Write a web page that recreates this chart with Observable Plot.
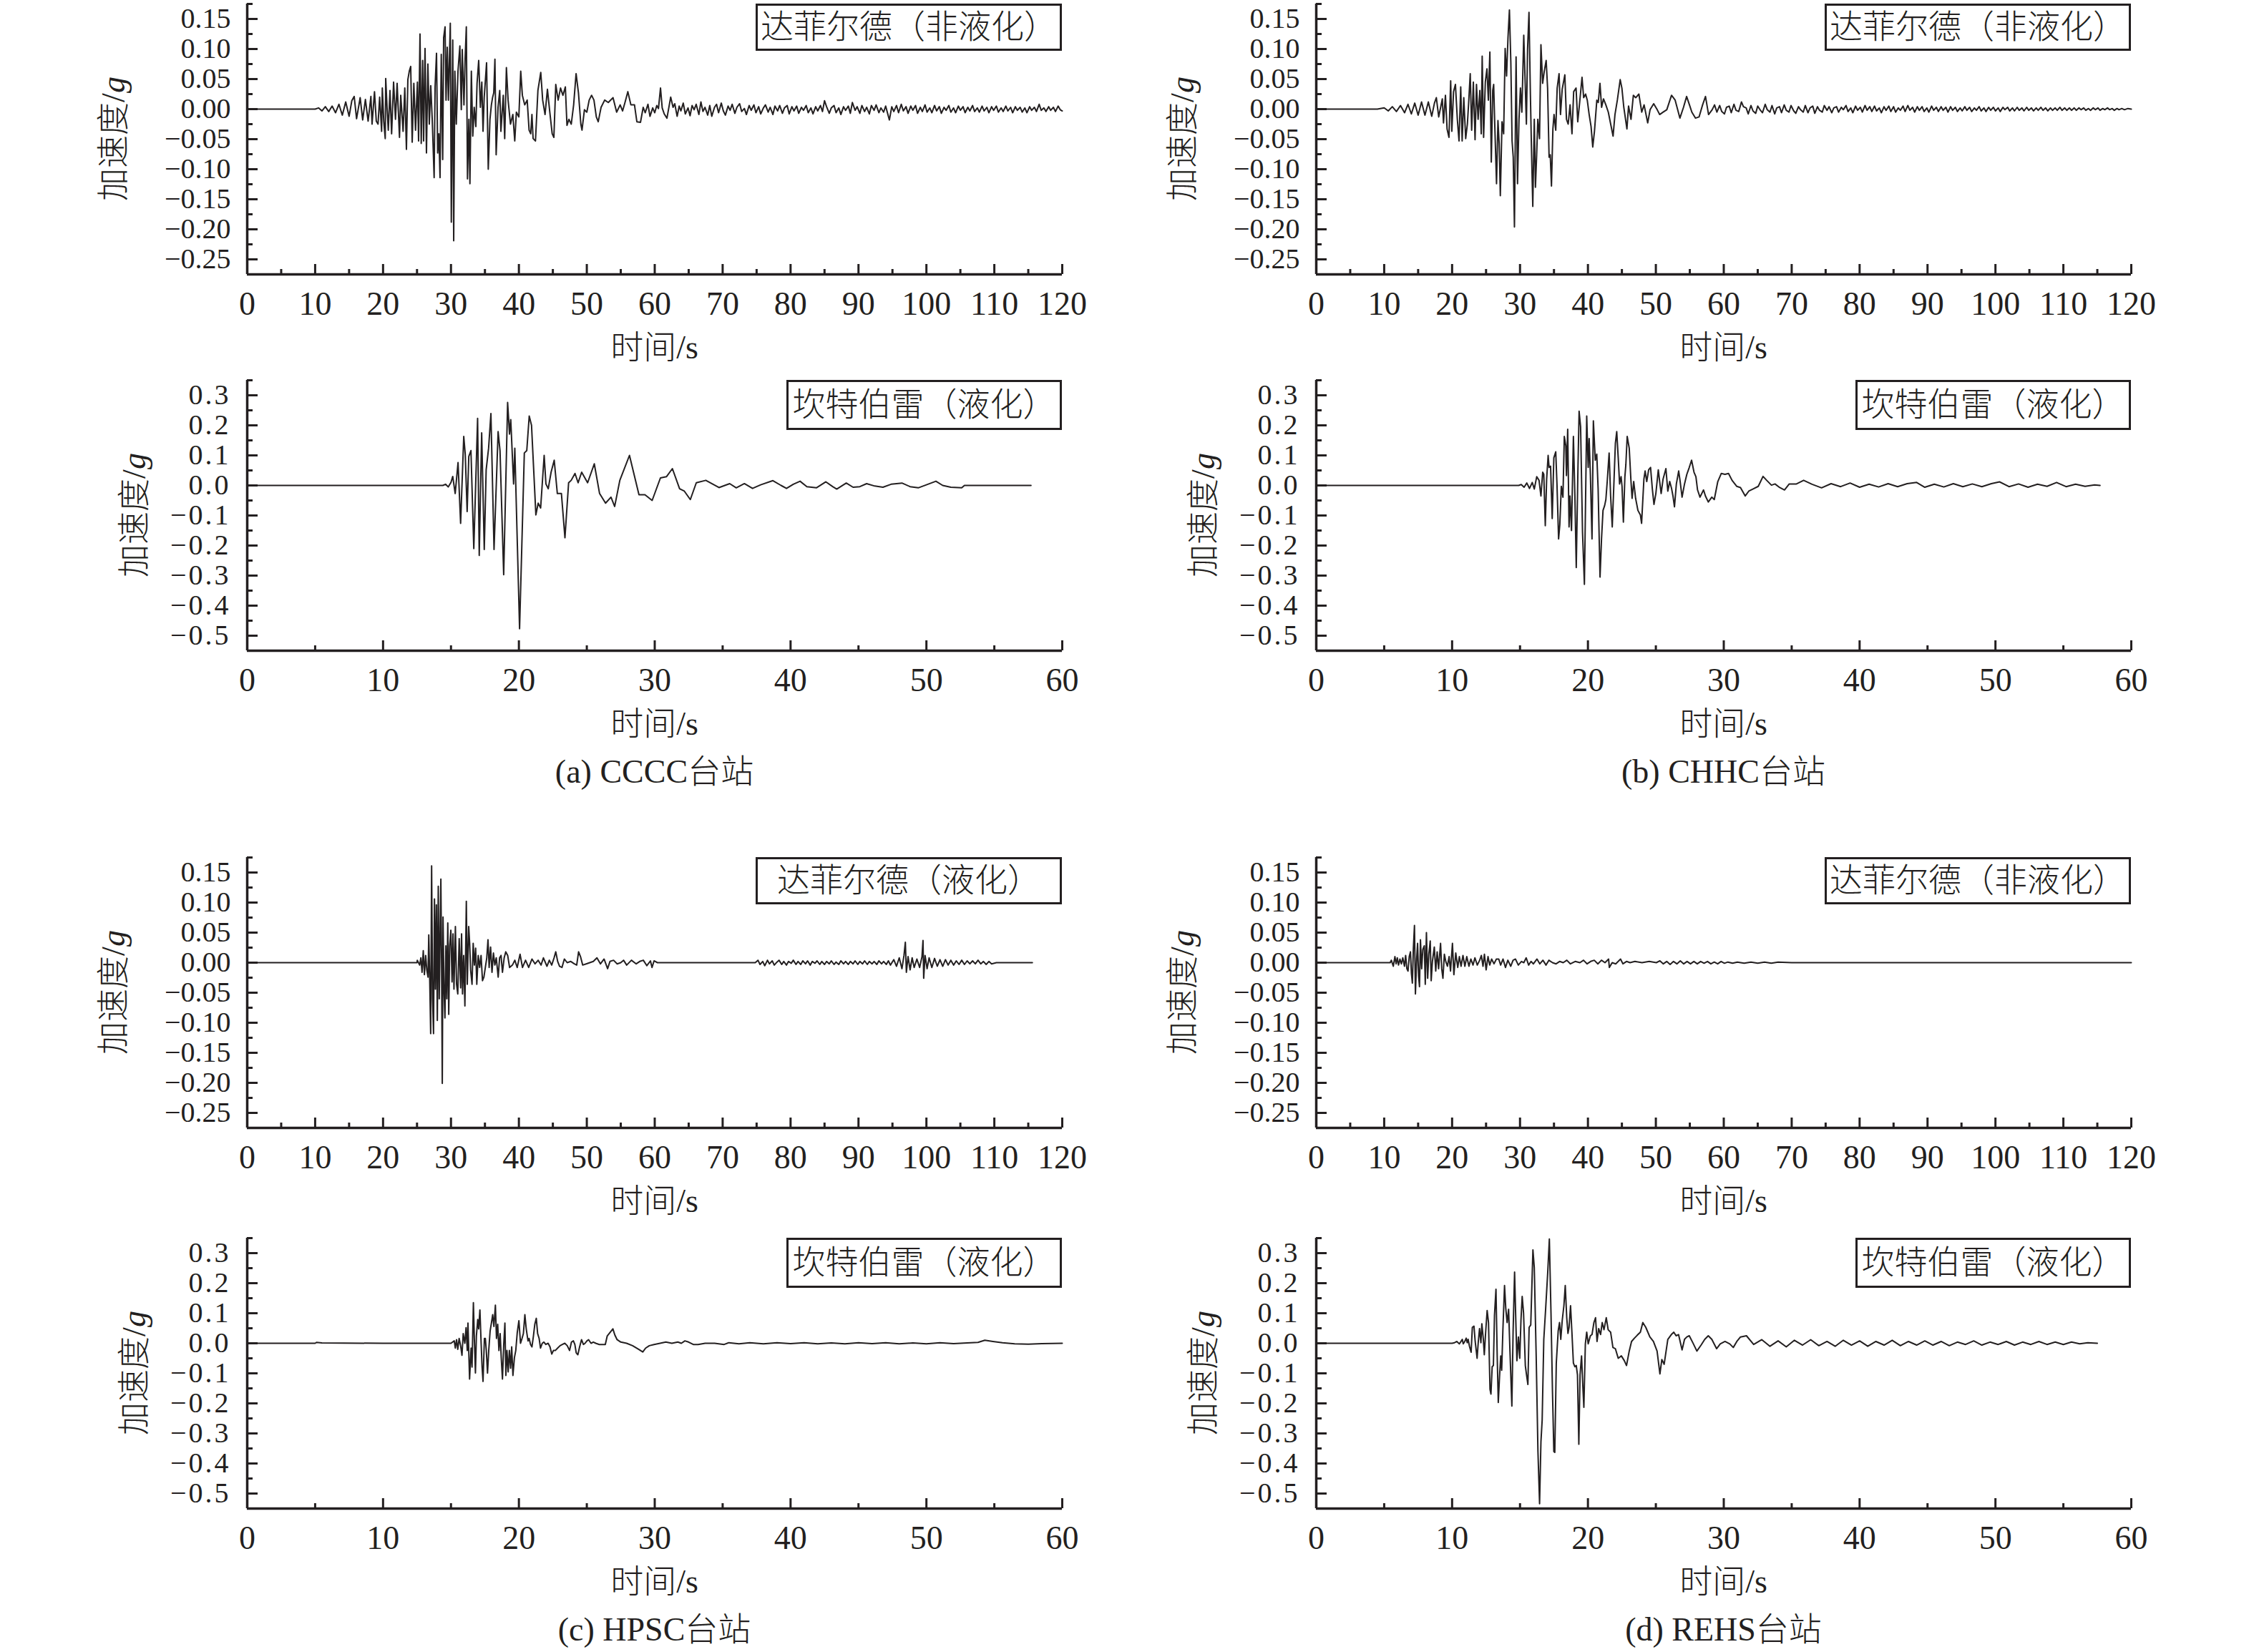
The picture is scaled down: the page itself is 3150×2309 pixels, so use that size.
<!DOCTYPE html>
<html>
<head>
<meta charset="utf-8">
<script src="https://cdn.jsdelivr.net/npm/d3@7"></script>
<script src="https://cdn.jsdelivr.net/npm/@observablehq/plot@0.6"></script>
<style>
  html, body { margin: 0; padding: 0; background: #fff; }
  #page { position: relative; width: 3150px; height: 2309px; background: #fff; overflow: hidden; }
  .abs { position: absolute; }
  .txt { font-family: "Liberation Serif", "Noto Sans CJK SC", serif; color: #231f20; white-space: nowrap; line-height: 1; }
  .cjk { font-weight: 300; }
  .box { border: 3.5px solid #231f20; box-sizing: border-box; display: flex; align-items: center; justify-content: center; background: #fff; font-size: 46px; }
</style>
</head>
<body>
<div id="page"></div>
<script>
// ---------- tick values ----------
const xMajor120 = [0,10,20,30,40,50,60,70,80,90,100,110,120];
const xMinor120 = [5,15,25,35,45,55,65,75,85,95,105,115];
const xMajor60 = [0,10,20,30,40,50,60];
const xMinor60 = [5,15,25,35,45,55];
const yMajorTop = [-0.25,-0.2,-0.15,-0.1,-0.05,0,0.05,0.1,0.15];
const yMinorTop = [-0.225,-0.175,-0.125,-0.075,-0.025,0.025,0.075,0.125,0.175];
const yMajorBot = [-0.5,-0.4,-0.3,-0.2,-0.1,0,0.1,0.2,0.3];
const yMinorBot = [-0.45,-0.35,-0.25,-0.15,-0.05,0.05,0.15,0.25,0.35];
const yDomainTop = [-0.275, 0.175];
const yDomainBot = [-0.55, 0.35];

// ---------- labels ----------
const stationCaptions = ["(a) CCCC台站", "(b) CHHC台站", "(c) HPSC台站", "(d) REHS台站"];
const eventLabelsTop = ["达菲尔德（非液化）", "达菲尔德（非液化）", "达菲尔德（液化）", "达菲尔德（非液化）"];
const eventLabelBottom = "坎特伯雷（液化）";
const xTitle = "时间/s";

// ---------- acceleration records [time s, acceleration g] ----------
const cccc_darfield = [[0,0],[10,0],[10.5,0.002],[11,-0.003],[11.5,0.004],[12,-0.004],[12.5,0.005],[13,-0.006],[13.5,0.008],[14,-0.01],[14.5,0.012],[15,-0.012],
[15.4,0.014],[15.75,0.021],[16.1,-0.016],[16.63,0.019],[17.0,-0.018],[17.4,0.016],[17.8,-0.02],[18.21,0.021],[18.38,-0.025],[18.74,0.029],[19.0,-0.02],[19.26,-0.025],[19.5,0.02],[19.79,-0.037],[19.89,0.035],[20.1,-0.02],[20.32,-0.049],[20.39,0.051],[20.6,0.0],[20.77,-0.035],[21.02,0.031],[21.26,-0.041],[21.55,0.045],[21.83,-0.017],[22.07,0.043],[22.42,-0.047],[22.6,0.023],[22.95,-0.037],[23.2,0.035],[23.44,-0.067],[23.65,0.049],[23.86,0.063],[24.07,0.071],[24.29,-0.055],[24.53,0.043],[24.78,-0.035],[25.06,0.045],[25.23,-0.053],[25.44,0.125],[25.62,-0.057],[25.83,0.081],[25.97,-0.053],[26.18,0.101],[26.39,-0.073],[26.6,0.075],[26.81,-0.025],[27.02,0.039],[27.24,-0.017],[27.52,-0.114],[27.66,0.037],[27.87,0.093],[28.04,-0.073],[28.22,-0.041],[28.39,-0.114],[28.57,0.091],[28.78,-0.084],[28.92,0.119],[29.13,0.137],[29.27,0.015],[29.45,0.103],[29.62,0.015],[29.9,0.143],[30.05,-0.188],[30.26,0.115],[30.4,-0.219],[30.57,0.063],[30.78,-0.025],[31.03,0.063],[31.31,0.105],[31.52,-0.001],[31.66,0.099],[31.91,0.007],[32.08,0.083],[32.26,0.137],[32.43,-0.116],[32.64,-0.017],[32.79,-0.124],[33.0,0.063],[33.21,-0.045],[33.42,0.003],[33.66,-0.029],[33.84,0.043],[34.08,0.081],[34.33,0.003],[34.54,0.045],[34.72,-0.037],[34.89,0.019],[35.24,0.077],[35.49,-0.1],[35.74,-0.017],[35.95,0.007],[36.12,0.019],[36.3,0.027],[36.47,0.083],[36.65,-0.076],[36.93,0.003],[37.18,0.031],[37.35,-0.037],[37.7,0.023],[37.91,-0.049],[38.16,0.069],[38.41,0.015],[38.76,-0.025],[39.11,-0.009],[39.39,-0.053],[39.63,-0.005],[39.99,-0.013],[40.27,0.063],[40.51,0.023],[40.86,0.007],[41.22,0.015],[41.5,-0.035],[41.74,-0.041],[41.92,-0.009],[42.09,-0.049],[42.44,-0.053],[42.8,0.031],[43.22,0.061],[43.5,0.015],[43.85,-0.009],[44.2,0.033],[44.55,-0.005],[44.9,-0.041],[45.15,-0.047],[45.43,0.041],[45.78,0.015],[46.13,0.035],[46.48,0.023],[46.84,0.037],[47.08,-0.027],[47.36,-0.017],[47.71,-0.025],[48.06,0.007],[48.42,0.059],[48.77,0.027],[49.12,-0.025],[49.29,-0.035],[49.65,-0.001],[50.0,-0.005],[50.35,0.015],[50.7,0.023],[51.05,0.015],[51.4,-0.013],[51.68,-0.021],[52.1,0.003],[52.63,0.015],[53.16,0.011],[53.86,0.019],[54.39,-0.005],[54.91,0.007],[55.27,-0.003],[55.62,0.011],[56.04,0.029],[56.49,0.007],[57.02,0.007],[57.37,-0.021],
[57.9,-0.022],[58.3,0.003],[58.6,-0.006],[59.0,0.008],[59.3,-0.012],[59.7,0.002],[60.0,-0.006],[60.3,0.006],[60.55,0.001],[60.85,0.035],[61.1,0.002],[61.4,-0.008],[61.8,-0.015],[62.1,0.004],[62.35,0.02],[62.7,0.003],[62.95,0.009],[63.3,-0.012],[63.6,0.005],[63.85,-0.003],[64.2,0.01],[64.5,-0.008],[64.9,0.002],[65.2,-0.011],[65.5,0.006],[65.8,-0.001],[66.1,0.008],[66.5,-0.009],[66.8,0.012],[67.1,-0.004],[67.4,0.003],[67.8,-0.01],[68.1,0.006],[68.4,-0.012],[68.8,0.003],[69.1,0.008],[69.4,-0.006],[69.8,0.01],[70.1,-0.003],[70.4,-0.01],[70.8,0.005],[71.1,-0.002],[71.4,0.008],[71.8,-0.007],[72.1,0.003],[72.5,0.009],[72.8,-0.004],[73.2,0.001],[73.5,-0.009],[73.9,0.006],[74.2,-0.002],[74.6,0.007],[74.9,-0.006],[75.3,0.004],[75.6,-0.008],[76.0,0.002],[76.3,0.007],[76.7,-0.005],[77.0,0.003],[77.4,-0.009],[77.7,0.005],[78.1,-0.003],[78.4,0.006],[78.8,-0.007],[79.1,0.002],[79.5,0.006],[79.8,-0.008],[80.2,0.004],[80.5,-0.003],[80.9,0.005],[81.2,-0.007],[81.6,0.003],[81.9,-0.002],[82.3,0.006],[82.6,-0.006],[83.0,0.002],[83.3,-0.008],[83.7,0.004],[84.0,-0.003],[84.4,0.006],[84.7,-0.004],[85.0,0.014],[85.3,0.004],[85.7,-0.007],[86.0,0.002],[86.4,0.006],[86.7,-0.006],[87.1,0.002],[87.4,-0.009],[87.8,0.004],[88.1,-0.002],[88.5,0.005],[88.8,-0.007],[89.1,0.011],[89.5,-0.002],[89.8,0.004],[90.2,-0.007],[90.5,0.006],[90.9,-0.004],[91.2,0.003],[91.6,-0.008],[91.9,0.006],[92.3,-0.002],[92.6,0.007],[93.0,-0.006],[93.3,0.002],[93.7,-0.005],[94.0,0.005],[94.4,-0.012],[94.55,-0.018],[94.9,0.004],[95.2,-0.004],[95.6,0.006],[95.9,-0.006],[96.3,0.008],[96.6,-0.003],[97.0,0.004],[97.3,-0.007],[97.7,0.005],[98.0,-0.002],[98.4,0.006],[98.7,-0.007],[99.1,0.003],[99.4,-0.004],[99.8,0.007],[100.1,-0.005],[100.5,0.002],[100.8,-0.006],[101.2,0.006],[101.5,-0.003],[101.9,0.004],[102.2,-0.007],[102.6,0.003],[102.9,-0.002],[103.3,0.006],[103.6,-0.005],[104.0,0.002],[104.3,-0.006],[104.7,0.005],[105.0,-0.002],[105.4,0.004],[105.7,-0.006],[106.1,0.003],[106.4,-0.003],[106.8,0.006],[107.1,-0.004],[107.5,0.002],[107.8,-0.005],[108.2,0.005],[108.5,-0.003],[108.9,0.003],[109.2,-0.006],[109.6,0.004],[109.9,-0.002],[110.3,0.005],[110.6,-0.005],[111.0,0.002],[111.3,-0.004],[111.7,0.005],[112.0,-0.003],[112.4,0.003],[112.7,-0.006],[113.1,0.004],[113.4,-0.002],[113.8,0.003],[114.1,-0.005],[114.5,0.002],[114.8,-0.006],[115.2,0.004],[115.5,-0.002],[115.9,0.003],[116.2,-0.004],[116.6,0.008],[116.9,-0.002],[117.3,0.002],[117.6,-0.004],[118.0,0.004],[118.3,-0.002],[118.7,0.003],[119.0,-0.004],[119.4,0.005],[119.7,-0.001],[120,-0.003]];

const cccc_canterbury = [[0,0],[14.4,0],[14.6,0.004],[14.8,-0.005],[15.0,0.01],[15.13,0.03],[15.31,-0.027],[15.52,0.076],[15.71,-0.126],[15.94,0.163],[16.05,0.104],[16.19,-0.087],[16.31,0.096],[16.47,0.116],[16.68,-0.21],[16.96,0.223],[17.08,-0.233],[17.26,0.175],[17.45,-0.213],[17.59,0.052],[17.77,0.124],[17.94,0.239],[18.17,-0.213],[18.47,0.179],[18.61,0.116],[18.88,-0.297],[19.17,0.276],[19.31,0.171],[19.4,0.219],[19.61,0.005],[19.7,0.124],[20.05,-0.477],[20.4,0.108],[20.58,0.116],[20.76,0.231],[20.93,0.2],[21.25,-0.098],[21.42,-0.059],[21.6,-0.075],[21.86,0.1],[21.99,0.005],[22.16,-0.011],[22.37,0.044],[22.6,0.084],[22.83,-0.027],[23.13,-0.027],[23.39,-0.174],[23.66,0.009],[23.85,0.017],[24.13,0.04],[24.36,0.009],[24.62,0.044],[25.06,0.009],[25.55,0.072],[25.94,-0.027],[26.38,-0.059],[26.78,-0.039],[27.05,-0.07],[27.43,0.017],[28.14,0.1],[28.84,-0.031],[29.28,-0.031],[29.81,-0.05],[30.42,0.025],[30.86,0.029],[31.3,0.056],[31.83,-0.011],[32.18,-0.019],[32.62,-0.047],[33.06,0.009],[33.76,0.017],[34.73,-0.007],[35.52,0.006],
[36.0,-0.008],[36.6,0.006],[37.2,-0.01],[37.8,0.002],[38.7,0.016],[39.3,0.0],[39.7,-0.01],[40.2,0.004],[40.7,0.014],[41.2,-0.004],[41.9,-0.008],[42.6,0.012],[43.1,-0.004],[43.4,-0.012],[44.1,0.008],[44.6,-0.006],[45.1,-0.004],[45.6,0.006],[46.2,-0.002],[46.8,-0.006],[47.4,0.004],[48.2,0.008],[48.8,-0.004],[49.4,-0.008],[50.0,0.002],[50.7,0.014],[51.2,0.0],[51.8,-0.006],[52.6,-0.008],[52.8,0.0],[57.7,0.0]];

const chhc_darfield = [[0,0],[9,0],[10,0.002],[10.6,-0.003],[11.2,0.004],[11.8,-0.004],[12.4,0.006],[13.0,-0.006],[13.5,0.008],[14.0,-0.008],[14.5,0.01],[15.0,-0.01],[15.5,0.012],[16.0,-0.01],[16.5,0.012],[17.0,-0.012],[17.4,0.01],
[17.68,0.019],[18.03,-0.013],[18.56,0.017],[18.73,-0.023],[19.02,0.023],[19.26,-0.033],[19.54,-0.047],[19.79,0.047],[19.96,-0.037],[20.21,0.029],[20.49,0.041],[20.77,-0.017],[21.02,-0.053],[21.27,0.037],[21.48,-0.053],[21.72,0.019],[22.0,-0.049],[22.25,-0.025],[22.46,0.015],[22.67,0.059],[22.88,-0.035],[23.13,0.045],[23.38,-0.051],[23.59,0.041],[23.83,-0.017],[24.08,0.031],[24.29,-0.041],[24.43,0.088],[24.64,-0.047],[24.89,0.045],[25.13,0.067],[25.34,0.015],[25.56,0.095],[25.77,-0.088],[25.98,0.031],[26.12,0.041],[26.29,-0.029],[26.54,-0.124],[26.75,-0.019],[26.93,-0.057],[27.1,-0.144],[27.35,-0.021],[27.59,-0.041],[27.81,0.101],[28.02,0.055],[28.23,0.119],[28.44,0.165],[28.65,0.077],[28.83,-0.053],[29.0,-0.08],[29.18,-0.196],[29.42,0.087],[29.63,-0.124],[29.85,-0.017],[30.06,0.035],[30.27,-0.005],[30.55,0.123],[30.76,0.043],[30.94,-0.025],[31.11,0.099],[31.32,0.161],[31.53,0.023],[31.67,-0.057],[31.88,-0.162],[32.1,-0.017],[32.27,-0.13],[32.45,-0.076],[32.62,-0.017],[32.87,-0.049],[33.08,0.107],[33.33,0.043],[33.57,0.063],[33.85,0.081],[34.06,0.035],[34.28,-0.08],[34.45,-0.076],[34.63,-0.128],[34.84,-0.033],[35.01,-0.009],[35.26,-0.035],[35.47,0.035],[35.75,0.059],[35.96,-0.009],[36.21,0.033],[36.6,0.057],[36.84,-0.017],[37.09,-0.025],[37.37,0.007],[37.65,-0.041],[37.9,0.029],[38.25,0.035],[38.5,-0.021],[38.78,0.011],[39.13,0.053],[39.37,0.019],[39.66,0.025],[39.9,0.015],[40.18,-0.009],[40.46,-0.029],[40.71,-0.063],[40.96,-0.037],[41.31,0.015],[41.52,0.011],[41.77,0.043],[42.01,0.003],[42.29,0.017],[42.64,0.007],[43.0,-0.005],[43.35,-0.025],[43.7,-0.045],[43.98,-0.009],[44.33,0.015],[44.75,0.049],[45.0,0.035],[45.28,0.003],[45.74,-0.033],[45.98,0.005],[46.34,-0.017],[46.69,0.023],[47.04,0.019],[47.5,0.025],[47.92,-0.005],[48.27,0.007],[48.8,-0.023],[49.15,-0.001],[49.68,0.009],[50.2,-0.001],[50.56,-0.009],[51.08,-0.005],[51.61,-0.001],[52.31,0.023],[52.84,0.015],[53.54,-0.015],[54.07,0.003],[54.53,0.021],[54.95,0.007],[55.3,-0.005],[55.83,-0.015],[56.36,-0.013],[56.88,0.007],[57.31,0.021],[57.76,-0.009],[58.29,-0.001],[58.64,0.007],[58.99,-0.005],
[59.4,0.006],[59.7,-0.004],[60.1,-0.008],[60.4,0.003],[60.8,0.005],[61.1,-0.006],[61.5,0.008],[61.8,-0.002],[62.2,-0.004],[62.6,0.012],[62.9,0.004],[63.3,0.002],[63.6,-0.008],[64.0,0.006],[64.3,-0.003],[64.7,-0.007],[65.0,0.005],[65.4,-0.002],[65.7,-0.006],[66.1,0.008],[66.4,-0.001],[66.8,-0.005],[67.1,0.006],[67.5,-0.008],[67.8,0.002],[68.2,0.004],[68.5,-0.006],[68.9,0.007],[69.2,-0.002],[69.6,-0.005],[69.9,0.006],[70.3,-0.003],[70.6,-0.007],[71.0,0.004],[71.3,-0.001],[71.7,-0.005],[72.0,0.006],[72.4,-0.006],[72.7,0.002],[73.1,0.005],[73.4,-0.007],[73.8,0.004],[74.1,-0.002],[74.5,-0.005],[74.8,0.006],[75.2,-0.002],[75.5,0.004],[75.9,-0.006],[76.2,0.002],[76.6,0.004],[76.9,-0.005],[77.3,0.003],[77.6,-0.001],[78.0,0.006],[78.3,-0.004],[78.7,0.002],[79.0,-0.006],[79.4,0.005],[79.7,-0.002],[80.1,0.003],[80.4,-0.005],[80.8,0.006],[81.1,-0.002],[81.5,0.004],[81.8,-0.004],[82.2,0.005],[82.5,-0.003],[82.9,0.002],[83.2,-0.006],[83.6,0.004],[83.9,-0.002],[84.3,0.005],[84.6,-0.004],[85.0,0.004],[85.3,-0.005],[85.7,0.002],[86.0,-0.002],[86.4,0.005],[86.7,-0.004],[87.1,0.006],[87.4,-0.002],[87.8,0.003],[88.1,-0.005],[88.5,0.004],[88.8,-0.002],[89.2,0.004],[89.5,-0.004],[89.9,0.002],[90.2,-0.005],[90.6,0.005],[90.9,-0.002],[91.3,0.003],[91.6,-0.004],[92.0,0.004],[92.3,-0.002],[92.7,0.003],[93.0,-0.005],[93.4,0.004],[93.7,-0.002],[94.1,0.003],[94.4,-0.004],[94.8,0.002],[95.1,-0.003],[95.5,0.004],[95.8,-0.002],[96.2,0.003],[96.5,-0.004],[96.9,0.002],[97.2,-0.002],[97.6,0.004],[97.9,-0.003],[98.3,0.002],[98.6,-0.004],[99.0,0.003],[99.3,-0.002],[99.7,0.003],[100.0,-0.003],[100.4,0.002],[100.7,-0.004],[101.1,0.003],[101.4,-0.001],[101.8,0.003],[102.1,-0.003],[102.5,0.002],[102.8,-0.003],[103.2,0.003],[103.5,-0.002],[103.9,0.002],[104.2,-0.003],[104.6,0.003],[104.9,-0.002],[105.3,0.002],[105.6,-0.003],[106.0,0.002],[106.3,-0.002],[106.7,0.003],[107.0,-0.002],[107.4,0.002],[107.7,-0.003],[108.1,0.002],[108.4,-0.002],[108.8,0.002],[109.1,-0.002],[109.5,0.003],[109.8,-0.002],[110.2,0.002],[110.5,-0.002],[110.9,0.002],[111.2,-0.002],[111.6,0.002],[111.9,-0.002],[112.3,0.002],[112.6,-0.001],[113.0,0.002],[113.3,-0.002],[113.7,0.001],[114.0,-0.002],[114.4,0.002],[114.7,-0.001],[115.1,0.002],[115.4,-0.002],[115.8,0.001],[116.1,-0.001],[116.5,0.002],[116.8,-0.001],[117.2,0.001],[117.5,-0.002],[117.9,0.001],[118.2,-0.001],[118.6,0.001],[119.0,-0.001],[119.5,0.001],[120,0.0]];

const chhc_canterbury = [[0,0],[14.9,0],[15.09,0.003],[15.3,-0.006],[15.5,0.008],[15.7,-0.01],[15.9,0.01],[16.05,-0.012],[16.23,0.029],[16.4,0.017],[16.54,-0.035],[16.67,0.044],[16.75,0.037],[16.86,-0.134],[16.96,0.021],[17.07,0.1],[17.14,0.06],[17.25,0.064],[17.37,-0.11],[17.49,0.092],[17.63,0.112],[17.72,0.005],[17.84,-0.178],[17.93,-0.13],[18.04,-0.003],[18.16,-0.039],[18.26,0.163],[18.37,0.132],[18.42,0.033],[18.51,0.187],[18.61,-0.138],[18.68,-0.035],[18.79,-0.15],[18.93,0.163],[19.04,-0.035],[19.14,-0.273],[19.26,0.044],[19.35,0.247],[19.46,0.195],[19.6,-0.154],[19.74,-0.329],[19.84,-0.003],[19.91,0.231],[20.02,0.06],[20.09,0.156],[20.18,0.037],[20.3,-0.178],[20.4,0.215],[20.54,0.084],[20.65,0.104],[20.75,-0.011],[20.89,-0.305],[21.0,-0.178],[21.11,-0.083],[21.23,-0.067],[21.32,-0.047],[21.42,0.013],[21.56,0.108],[21.67,-0.035],[21.79,-0.138],[21.91,0.005],[22.02,0.14],[22.12,0.179],[22.23,0.092],[22.33,0.005],[22.44,0.029],[22.51,-0.003],[22.61,-0.122],[22.72,0.029],[22.79,0.068],[22.89,0.163],[23.04,0.124],[23.16,0.021],[23.25,-0.043],[23.37,0.013],[23.51,-0.043],[23.68,-0.083],[23.86,-0.098],[23.95,-0.126],[24.12,0.021],[24.21,0.048],[24.33,0.013],[24.47,0.052],[24.61,0.06],[24.74,-0.011],[24.86,-0.063],[25.0,-0.027],[25.18,0.052],[25.28,0.013],[25.39,-0.027],[25.53,0.021],[25.74,0.056],[25.88,-0.019],[26.02,0.013],[26.16,-0.011],[26.26,-0.035],[26.37,-0.071],[26.51,0.005],[26.68,0.048],[26.79,0.013],[26.93,-0.039],[27.11,0.005],[27.28,0.037],[27.46,0.06],[27.63,0.084],[27.81,0.044],[27.95,0.029],[28.07,-0.015],[28.25,-0.039],[28.51,-0.015],[28.65,-0.035],[28.86,-0.055],[29.12,-0.039],[29.3,-0.047],[29.56,0.013],[29.82,0.04],[30.09,0.037],[30.35,0.04],[30.61,0.017],[30.96,-0.003],[31.23,-0.007],[31.58,-0.035],[31.84,-0.019],[32.19,-0.011],[32.54,-0.003],[32.89,0.03],[33.16,0.017],[33.51,0.001],[33.77,0.005],[34.12,-0.007],[34.47,-0.015],[34.82,0.005],[35.35,0.005],[35.88,0.017],
[36.5,0.004],[37.2,-0.008],[37.9,0.006],[38.6,-0.004],[39.3,0.008],[40.0,-0.006],[40.7,0.004],[41.4,-0.005],[42.1,0.006],[42.8,-0.004],[43.5,0.006],[44.2,0.01],[44.8,-0.006],[45.5,0.004],[46.2,-0.005],[46.9,0.006],[47.6,-0.004],[48.3,0.005],[49.0,-0.004],[49.7,0.006],[50.3,0.012],[51.0,-0.004],[51.7,0.005],[52.4,-0.006],[53.1,0.004],[53.8,-0.003],[54.5,0.01],[55.2,-0.004],[55.9,0.004],[56.6,-0.003],[57.3,0.002],[57.7,0.0]];

const hpsc_darfield = [[0,0],[25.0,0],[25.04,0.004],[25.39,-0.004],[25.57,0.008],[25.74,-0.016],[25.92,0.02],[26.09,-0.02],[26.27,0.012],[26.44,-0.012],[26.62,-0.024],[26.73,0.046],[26.87,-0.028],[27.01,-0.118],[27.15,0.161],[27.29,-0.06],[27.43,-0.118],[27.57,0.106],[27.71,-0.044],[27.85,0.096],[27.99,-0.096],[28.13,0.127],[28.27,-0.06],[28.41,0.056],[28.51,0.139],[28.62,-0.008],[28.72,-0.201],[28.83,0.076],[28.97,-0.044],[29.11,-0.092],[29.25,0.028],[29.39,-0.06],[29.53,0.066],[29.67,-0.086],[29.81,0.028],[29.98,0.054],[30.16,-0.032],[30.3,0.048],[30.44,-0.044],[30.65,0.06],[30.82,-0.036],[31.0,-0.052],[31.21,0.04],[31.42,-0.042],[31.56,0.048],[31.7,-0.052],[31.87,0.012],[32.05,-0.072],[32.26,0.102],[32.4,-0.036],[32.61,0.06],[32.75,0.032],[32.89,-0.012],[33.1,-0.036],[33.27,0.032],[33.45,-0.004],[33.63,0.024],[33.8,-0.036],[34.01,0.012],[34.22,-0.008],[34.43,0.012],[34.64,-0.03],[34.85,-0.024],[35.06,-0.008],[35.27,0.008],[35.45,0.038],[35.62,-0.008],[35.83,0.026],[36.04,-0.016],[36.25,0.016],[36.46,-0.004],[36.67,0.008],[36.95,-0.024],[37.16,0.008],[37.37,0.012],[37.58,-0.016],[37.83,0.008],[38.07,0.018],[38.35,0.012],[38.63,-0.008],[39.05,-0.004],[39.4,0.004],[39.75,-0.008],[40.17,0.014],[40.53,-0.008],[40.98,0.004],[41.44,-0.008],[41.93,0.006],[42.38,-0.002],[42.84,0.004],[43.26,-0.004],[43.61,0.008],[44.13,-0.006],[44.48,0.004],[44.83,-0.004],[45.18,0.008],[45.43,0.018],[45.71,0.002],[45.99,-0.006],[46.34,-0.008],[46.69,0.006],[47.11,0.0],[47.64,0.002],[48.16,-0.002],[48.51,-0.004],[48.79,0.018],[49.07,0.01],[49.39,-0.004],[49.91,-0.002],[50.44,0.0],[50.96,0.002],[51.49,0.008],[52.01,-0.002],[52.54,0.006],[53.06,-0.01],[53.41,0.002],[53.94,0.004],[54.47,-0.002],[54.99,0.0],[55.41,0.004],[55.87,-0.004],[56.57,0.004],[57.27,-0.002],[57.79,0.002],[58.32,0.004],[58.84,-0.005],[59.37,0.003],[59.6,-0.008],[59.9,0.003],[60.4,0.0],[74.8,0],
[75.2,0.004],[75.5,-0.003],[75.9,0.002],[76.2,-0.005],[76.6,0.004],[76.9,-0.002],[77.3,0.003],[77.6,-0.004],[78.0,0.001],[78.3,0.004],[78.7,-0.003],[79.0,0.002],[79.4,-0.004],[79.7,0.002],[80.1,-0.001],[80.4,0.004],[80.8,-0.003],[81.1,0.002],[81.5,-0.003],[81.8,0.003],[82.2,-0.002],[82.5,0.003],[82.9,-0.004],[83.2,0.002],[83.6,-0.001],[83.9,0.003],[84.3,-0.003],[84.6,0.002],[85.0,-0.003],[85.3,0.002],[85.7,-0.002],[86.0,0.003],[86.4,-0.003],[86.7,0.001],[87.1,-0.003],[87.4,0.003],[87.8,-0.002],[88.1,0.002],[88.5,-0.003],[88.8,0.002],[89.2,-0.002],[89.5,0.003],[89.9,-0.003],[90.2,0.002],[90.6,-0.002],[90.9,0.003],[91.3,-0.003],[91.6,0.002],[92.0,-0.002],[92.3,0.002],[92.7,-0.003],[93.0,0.003],[93.4,-0.002],[93.7,0.002],[94.1,-0.003],[94.4,0.003],[94.7,-0.004],[95.2,0.005],[95.6,-0.006],[96.0,0.008],[96.4,-0.01],[96.7,0.012],[96.9,0.034],[97.05,-0.016],[97.3,0.01],[97.6,-0.012],[97.9,0.008],[98.2,-0.008],[98.6,0.006],[99.0,-0.008],[99.35,0.01],[99.5,0.037],[99.6,-0.026],[99.8,0.012],[100.1,-0.01],[100.4,0.008],[100.8,-0.008],[101.2,0.007],[101.6,-0.006],[102.0,0.005],[102.4,-0.006],[102.8,0.005],[103.2,-0.004],[103.6,0.004],[104.0,-0.004],[104.4,0.003],[104.8,-0.003],[105.2,0.004],[105.6,-0.003],[106.0,0.003],[106.4,-0.002],[106.8,0.003],[107.2,-0.002],[107.6,0.004],[108.0,-0.002],[108.4,0.002],[108.8,-0.003],[109.2,0.002],[109.6,-0.002],[110.3,0],[115.6,0]];

const hpsc_canterbury = [[0,0],[5.0,0],[5.1,0.003],[5.5,0.001],[10,0],[15.0,0],[15.24,0.008],[15.32,-0.016],[15.41,0.012],[15.5,-0.02],[15.6,0.016],[15.71,-0.008],[15.81,-0.04],[15.9,0.032],[16.02,0],[16.11,0.052],[16.2,-0.024],[16.25,0.067],[16.37,-0.119],[16.48,-0.016],[16.55,-0.079],[16.65,0.135],[16.72,0.016],[16.8,-0.099],[16.87,0.024],[16.97,0.079],[17.04,0.048],[17.13,0.111],[17.22,0],[17.29,-0.079],[17.36,-0.127],[17.46,0.016],[17.53,0.016],[17.6,-0.024],[17.69,-0.099],[17.78,-0.024],[17.88,0.04],[17.99,0.071],[18.07,0.095],[18.16,0.056],[18.27,0.127],[18.35,0.016],[18.44,0.063],[18.53,-0.024],[18.62,0.032],[18.7,-0.048],[18.79,-0.119],[18.88,-0.008],[18.97,0.067],[19.04,-0.107],[19.12,-0.024],[19.21,-0.095],[19.3,-0.024],[19.39,-0.083],[19.47,-0.012],[19.56,-0.107],[19.67,-0.048],[19.77,-0.024],[19.88,0.036],[20.0,0.075],[20.12,0],[20.23,0.016],[20.33,0.032],[20.44,0.095],[20.54,0.048],[20.67,0.008],[20.75,0.016],[20.86,-0.004],[20.96,-0.012],[21.07,0.024],[21.17,0.063],[21.28,0.083],[21.38,0.032],[21.49,0.016],[21.59,-0.016],[21.72,0],[21.84,0.004],[21.98,-0.004],[22.15,0],[22.29,-0.012],[22.42,-0.036],[22.54,-0.024],[22.68,-0.024],[22.85,-0.016],[23.03,-0.008],[23.2,-0.004],[23.38,0],[23.56,-0.008],[23.73,-0.024],[23.87,0.004],[24.01,0.008],[24.12,-0.004],[24.22,-0.032],[24.34,-0.038],[24.47,-0.012],[24.61,0.012],[24.75,-0.004],[24.87,0],[25.01,0.008],[25.13,0.012],[25.31,0],[25.48,0.004],[25.66,0],[25.92,-0.004],[26.18,-0.004],[26.36,-0.004],[26.5,0.024],[26.71,0.036],[26.92,0.048],[27.06,0.028],[27.23,0.012],[27.5,0.004],[27.93,0],[28.37,-0.008],[28.81,-0.02],[29.12,-0.029],[29.33,-0.016],[29.6,-0.008],[29.95,-0.004],[30.39,0],[30.82,0.004],[31.26,0],[31.7,0.004],[31.96,0],[32.22,0.008],[32.49,0.004],[32.84,-0.004],[33.19,-0.004],[33.71,0],[34.41,0],[35.11,-0.004],[35.46,0.002],
[36.2,-0.002],[37.0,0.002],[38.0,-0.002],[39.0,0.002],[40.0,-0.001],[41.0,0.002],[42.0,-0.002],[43.0,0.001],[44.0,-0.002],[45.0,0.002],[46.0,-0.001],[47.0,0.002],[48.0,-0.002],[49.0,0.001],[50.0,-0.002],[51.0,0.002],[52.0,-0.001],[53.0,0.001],[53.8,0.003],[54.3,0.01],[54.9,0.006],[55.6,0.002],[56.5,-0.002],[57.5,-0.003],[58.5,-0.001],[60,0]];

const rehs_darfield = [[0,0],[10.88,0],[11.05,0.004],[11.34,-0.006],[11.58,0.01],[11.76,-0.002],[11.93,0.008],[12.11,-0.004],[12.32,0.006],[12.53,-0.002],[12.74,0.008],[12.99,-0.006],[13.16,0.012],[13.34,-0.01],[13.51,-0.014],[13.69,0.01],[13.87,0.018],[14.01,-0.018],[14.15,-0.034],[14.29,0.022],[14.46,0.062],[14.6,-0.052],[14.78,0.006],[14.92,0.032],[15.06,-0.022],[15.2,-0.04],[15.34,0.038],[15.52,-0.01],[15.69,0.022],[15.91,0.028],[16.05,-0.036],[16.22,0.05],[16.4,-0.026],[16.57,0.014],[16.78,0.036],[16.92,-0.03],[17.1,0.002],[17.38,0.026],[17.59,-0.014],[17.8,0.018],[18.01,-0.01],[18.3,0.032],[18.47,-0.01],[18.65,-0.026],[18.86,0.014],[19.07,0.002],[19.31,-0.006],[19.56,0.01],[19.77,-0.014],[20.05,0.032],[20.26,-0.02],[20.54,0.016],[20.83,-0.008],[21.07,0.01],[21.32,-0.006],[21.6,0.012],[21.88,-0.006],[22.16,0.01],[22.48,-0.006],[22.76,0.006],[23.08,-0.004],[23.36,0.008],[23.71,-0.004],[24.06,0.004],[24.31,0.012],[24.55,-0.006],[24.76,0.014],[25.01,-0.012],[25.29,0.01],[25.54,-0.004],[25.82,0.006],[26.17,-0.002],[26.52,0.006],[26.87,0.006],[27.15,-0.004],[27.5,0.006],[27.86,-0.008],[28.21,0.004],[28.63,-0.006],[28.98,0.004],[29.33,0.006],[29.75,-0.004],[30.21,0.002],[30.56,0],[30.91,0.008],[31.27,-0.004],[31.62,0.002],[31.97,-0.002],[32.5,0.006],[32.92,-0.002],[33.37,0.004],[33.83,-0.004],[34.25,0.004],[34.78,0],[35.31,-0.002],[35.83,0.002],[36.36,0],[36.89,0.004],[37.42,-0.002],[38.12,0.002],[38.82,0],[39.35,0.004],[39.88,-0.002],[40.4,0.002],[40.93,0.004],[41.46,-0.002],[41.99,0.004],[42.51,0],[43.04,0.006],[43.15,-0.008],[43.57,0],[44.09,-0.002],[44.8,0.006],[45.15,-0.002],[45.68,0.002],[46.2,0],[46.91,0.002],[47.96,0],[49.02,0.002],[50.07,0],
[50.6,0.003],[51.1,-0.002],[51.6,0.002],[52.1,-0.003],[52.6,0.002],[53.1,-0.002],[53.6,0.003],[54.1,-0.002],[54.6,0.002],[55.1,-0.002],[55.6,0.002],[56.1,-0.002],[56.6,0.002],[57.1,-0.001],[57.6,0.002],[58.1,-0.002],[58.6,0.001],[59.1,-0.002],[59.6,0.002],[60.1,-0.001],[60.6,0.001],[61.3,-0.001],[62,0.001],[63,-0.001],[64,0.001],[65,-0.001],[66,0.001],[67,-0.001],[68,0.001],[70,0],[120,0]];

const rehs_canterbury = [[0,0],[10.0,0],[10.18,0.002],[10.35,0.006],[10.53,-0.002],[10.65,0.006],[10.75,0.013],[10.82,-0.002],[10.93,0.006],[11.04,0.017],[11.11,0.002],[11.18,0.013],[11.28,-0.01],[11.4,-0.03],[11.49,0.053],[11.61,0.057],[11.7,0.006],[11.84,-0.05],[11.93,0.006],[12.02,0.049],[12.12,0.002],[12.19,0.065],[12.3,0.013],[12.37,-0.038],[12.47,0.037],[12.58,0.109],[12.68,0.069],[12.79,-0.153],[12.86,-0.169],[12.95,-0.078],[13.04,-0.074],[13.12,0.093],[13.23,0.18],[13.32,-0.042],[13.4,-0.197],[13.49,-0.113],[13.58,-0.042],[13.65,-0.09],[13.74,0.045],[13.86,0.192],[13.95,0.117],[14.05,0.069],[14.16,0.113],[14.26,-0.026],[14.4,-0.209],[14.49,0.037],[14.6,0.237],[14.68,0.093],[14.77,-0.058],[14.88,0.021],[14.98,-0.05],[15.07,0.077],[15.16,0.156],[15.26,0.101],[15.39,-0.074],[15.47,-0.102],[15.58,-0.137],[15.67,0.053],[15.79,0.061],[15.95,0.311],[16.05,0.252],[16.19,-0.042],[16.32,-0.36],[16.44,-0.534],[16.54,-0.328],[16.63,-0.256],[16.75,0.013],[16.89,0.117],[17.04,0.236],[17.16,0.347],[17.28,0.101],[17.39,-0.161],[17.49,-0.36],[17.56,-0.363],[17.67,-0.066],[17.81,0.041],[17.91,0.069],[18.0,0.013],[18.11,0.077],[18.23,0.125],[18.33,0.192],[18.44,0.085],[18.53,0.033],[18.61,0.053],[18.72,0.125],[18.82,0.037],[18.93,-0.066],[19.04,-0.078],[19.14,-0.074],[19.23,-0.105],[19.33,-0.336],[19.42,-0.105],[19.53,-0.042],[19.61,-0.129],[19.7,-0.213],[19.81,-0.002],[19.91,0.037],[20.02,-0.002],[20.18,0.025],[20.3,0.029],[20.44,0.069],[20.56,0.085],[20.67,0.006],[20.79,0.049],[20.93,0.029],[21.05,0.069],[21.18,0.045],[21.35,0.085],[21.49,0.045],[21.67,0.037],[21.84,-0.014],[22.02,-0.018],[22.23,-0.05],[22.46,-0.042],[22.68,-0.058],[22.84,-0.074],[23.04,-0.026],[23.21,0.006],[23.42,0.017],[23.68,0.029],[23.86,0.037],[24.04,0.069],[24.26,0.053],[24.56,0.021],[24.82,0.006],[25.09,-0.026],[25.3,-0.102],[25.44,-0.054],[25.61,-0.07],[25.88,0.013],[26.14,0.029],[26.32,0.037],[26.49,0.025],[26.67,0.029],[26.93,-0.022],[27.11,0.013],[27.28,0.021],[27.46,0.025],[27.72,0.002],[28.02,-0.026],[28.33,-0.006],[28.6,0.013],[28.86,0.025],[29.12,0.013],[29.47,-0.018],[29.74,-0.002],[30.09,0.006],[30.44,-0.002],[30.7,-0.014],[30.96,0.006],[31.23,0.021],[31.67,0.025],
[32.2,-0.004],[32.8,0.012],[33.4,-0.01],[34.0,0.008],[34.6,-0.012],[35.2,0.01],[35.8,-0.006],[36.4,0.012],[37.0,-0.008],[37.6,0.006],[38.2,-0.01],[38.8,0.01],[39.4,-0.006],[40.0,0.008],[40.6,-0.01],[41.2,0.006],[41.8,-0.006],[42.4,0.01],[43.0,-0.008],[43.6,0.006],[44.2,-0.006],[44.8,0.008],[45.4,-0.006],[46.0,0.006],[46.6,-0.008],[47.2,0.004],[47.8,-0.004],[48.4,0.008],[49.0,-0.006],[49.6,0.004],[50.2,-0.004],[50.8,0.006],[51.4,-0.006],[52.0,0.004],[52.6,-0.004],[53.2,0.006],[53.8,-0.004],[54.4,0.004],[55.0,-0.004],[55.6,0.004],[56.2,-0.002],[56.8,0.002],[57.5,0]];

// ---------- layout ----------
const page = document.getElementById("page");
const INK = "#231f20";
const PW = 1139, PH = 378;            // plot frame size
const ML = 200, MR = 40, MT = 10, MB = 80;
const colX = [345, 1839];             // frame left of each column
const rowY = [5, 531, 1198, 1730];    // frame top of each row

function fmtY(dec) {
  return d => (d < 0 ? "\u2212" : "") + Math.abs(d).toFixed(dec);
}

function addDiv(html, cls, css) {
  const el = document.createElement("div");
  el.className = cls;
  el.innerHTML = html;
  Object.assign(el.style, css);
  page.appendChild(el);
  return el;
}

function panel(data, long, x0, y0, boxText, topRow) {
  const xDomain = long ? [0, 120] : [0, 60];
  const xMajor = long ? xMajor120 : xMajor60;
  const xMinor = long ? xMinor120 : xMinor60;
  const yDomain = topRow ? yDomainTop : yDomainBot;
  const yMajor = topRow ? yMajorTop : yMajorBot;
  const yMinor = topRow ? yMinorTop : yMinorBot;
  const svg = Plot.plot({
    width: ML + PW + MR, height: MT + PH + MB,
    marginLeft: ML, marginRight: MR, marginTop: MT, marginBottom: MB,
    x: {domain: xDomain},
    y: {domain: yDomain},
    style: {fontFamily: "'Liberation Serif', serif", fontSize: "46px", color: INK, background: "transparent", overflow: "visible"},
    marks: [
      Plot.line(data, {x: d => d[0], y: d => d[1], stroke: INK, strokeWidth: 2, strokeLinejoin: "round"}),
      Plot.tickX(xMajor, {x: d => d, insetTop: PH - 14, stroke: INK, strokeWidth: 3}),
      Plot.tickX(xMinor, {x: d => d, insetTop: PH - 7, stroke: INK, strokeWidth: 3}),
      Plot.tickY(yMajor, {y: d => d, insetRight: PW - 15, stroke: INK, strokeWidth: 3}),
      Plot.tickY(yMinor, {y: d => d, insetRight: PW - 8, stroke: INK, strokeWidth: 3}),
      Plot.ruleY([yDomain[0]], {stroke: INK, strokeWidth: 3.5}),
      Plot.ruleX([xDomain[0]], {stroke: INK, strokeWidth: 3.5}),
      Plot.axisX({ticks: xMajor, tickSize: 0, tickPadding: 24, tickFormat: d => String(d), label: null, fill: INK, fontSize: 46}),
      Plot.axisY({ticks: yMajor, tickSize: 0, tickPadding: 23, tickFormat: fmtY(topRow ? 2 : 1), label: null, fill: INK, fontSize: 40})
    ]
  });
  if (!topRow) {
    svg.querySelectorAll('g[aria-label="y-axis tick label"]').forEach(g => {
      g.style.letterSpacing = "3px";
    });
  }
  svg.style.position = "absolute";
  svg.style.left = (x0 - ML) + "px";
  svg.style.top = (y0 - MT) + "px";
  page.appendChild(svg);

  // y axis title (rotated)
  const yCx = x0 - (topRow ? 186 : 157);
  addDiv("加速度/<i>g</i>", "abs txt cjk", {
    left: yCx + "px", top: (y0 + PH / 2) + "px", fontSize: "46px",
    transform: "translate(-50%,-50%) rotate(-90deg)"
  });
  // x axis title
  addDiv(xTitle, "abs txt cjk", {
    left: (x0 + PW / 2) + "px", top: (y0 + PH + 103) + "px", fontSize: "46px",
    transform: "translate(-50%,-50%)"
  });
  // event label box
  const bw = topRow ? 428 : 385, bh = topRow ? 66 : 70;
  addDiv(boxText, "abs txt cjk box", {
    left: (x0 + PW - bw) + "px", top: y0 + "px", width: bw + "px", height: bh + "px"
  });
}

const records = [
  [cccc_darfield, cccc_canterbury],
  [chhc_darfield, chhc_canterbury],
  [hpsc_darfield, hpsc_canterbury],
  [rehs_darfield, rehs_canterbury]
];

records.forEach((rec, i) => {
  const col = i % 2, blk = Math.floor(i / 2);
  const x0 = colX[col];
  const yTop = rowY[blk * 2], yBot = rowY[blk * 2 + 1];
  panel(rec[0], true, x0, yTop, eventLabelsTop[i], true);
  panel(rec[1], false, x0, yBot, eventLabelBottom, false);
  addDiv(stationCaptions[i], "abs txt cjk", {
    left: (x0 + PW / 2) + "px", top: (yBot + PH + 170) + "px", fontSize: "46px",
    transform: "translate(-50%,-50%)"
  });
});
</script>
</body>
</html>
